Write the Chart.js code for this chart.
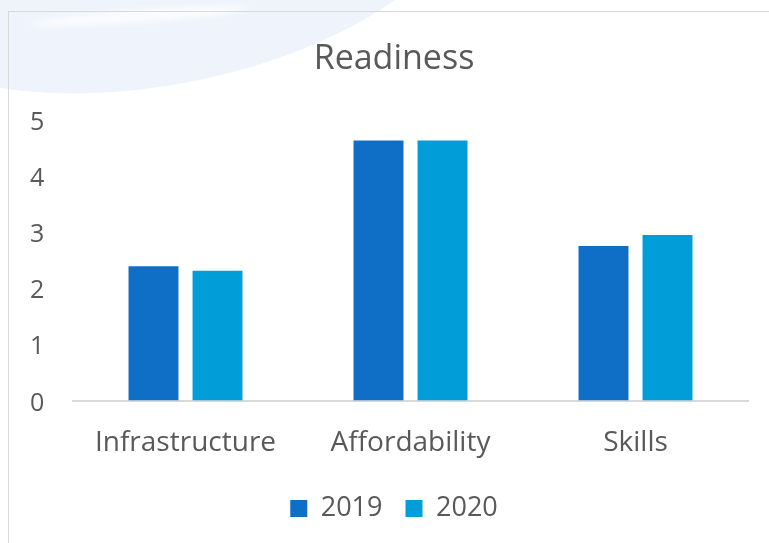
<!DOCTYPE html>
<html>
<head>
<meta charset="utf-8">
<script src="https://cdn.jsdelivr.net/npm/chart.js@4"></script>
<style>
  html, body { margin:0; padding:0; background:#ffffff; width:769px; height:543px; overflow:hidden; }
  #wm { position:absolute; left:-140px; top:-212px; width:620px; height:295px; border-radius:50%;
        background:#eef3fc; transform:rotate(-12deg); }
  #wm2 { position:absolute; left:30px; top:10px; width:220px; height:12px; border-radius:50%;
        background:rgba(255,255,255,0.75); transform:rotate(-4deg); filter:blur(3px); }
  #frame { position:absolute; left:8px; top:11px; width:800px; height:600px; border:1px solid #d9d9d9; box-sizing:border-box; }
  #wrap { position:absolute; left:0; top:0; width:769px; height:543px; }
</style>
</head>
<body>
<div id="wm"></div>
<div id="wm2"></div>
<div id="frame"></div>
<div id="wrap"><canvas id="c" width="769" height="543"></canvas></div>
<script>
const categories = ["Infrastructure", "Affordability", "Skills"];
const seriesNames = ["2019", "2020"];
const values2019 = [2.39, 4.63, 2.75];
const values2020 = [2.31, 4.63, 2.95];
const yTicks = [0, 1, 2, 3, 4, 5];

const textColor = "#595959";
const fontFamily = "'Open Sans', 'Noto Sans', sans-serif";

new Chart(document.getElementById("c"), {
  type: "bar",
  data: {
    labels: categories,
    datasets: [
      { label: seriesNames[0], data: values2019, backgroundColor: "#0f6fc6", borderWidth: 0,
        categoryPercentage: 0.569, barPercentage: 0.78 },
      { label: seriesNames[1], data: values2020, backgroundColor: "#009dd9", borderWidth: 0,
        categoryPercentage: 0.569, barPercentage: 0.78 }
    ]
  },
  options: {
    responsive: false,
    animation: false,
    layout: { padding: { left: 40, right: 21, top: 0, bottom: 11 } },
    plugins: {
      title: {
        display: true, text: "Readiness", color: textColor,
        font: { family: fontFamily, size: 34, weight: "normal" },
        padding: { top: 39, bottom: 40 }
      },
      legend: {
        display: true, position: "bottom",
        labels: { color: textColor, boxWidth: 17, boxHeight: 17, padding: 23,
                  font: { family: fontFamily, size: 27 } }
      },
      tooltip: { enabled: false }
    },
    scales: {
      x: {
        afterFit: (s) => { s.height = 71.5; },
        grid: { display: false, drawTicks: false },
        border: { display: true, color: "#d9d9d9", width: 2 },
        ticks: { color: textColor, padding: 26, font: { family: fontFamily, size: 28 } }
      },
      y: {
        min: 0, max: 5,
        afterBuildTicks: (s) => { s.ticks = yTicks.map(v => ({ value: v })); },
        afterFit: (s) => { s.width = 33; },
        grid: { display: false, drawTicks: false },
        border: { display: false },
        ticks: { color: textColor, mirror: true, padding: -43, labelOffset: 3,
                 font: { family: fontFamily, size: 25 } }
      }
    }
  }
});
</script>
</body>
</html>
